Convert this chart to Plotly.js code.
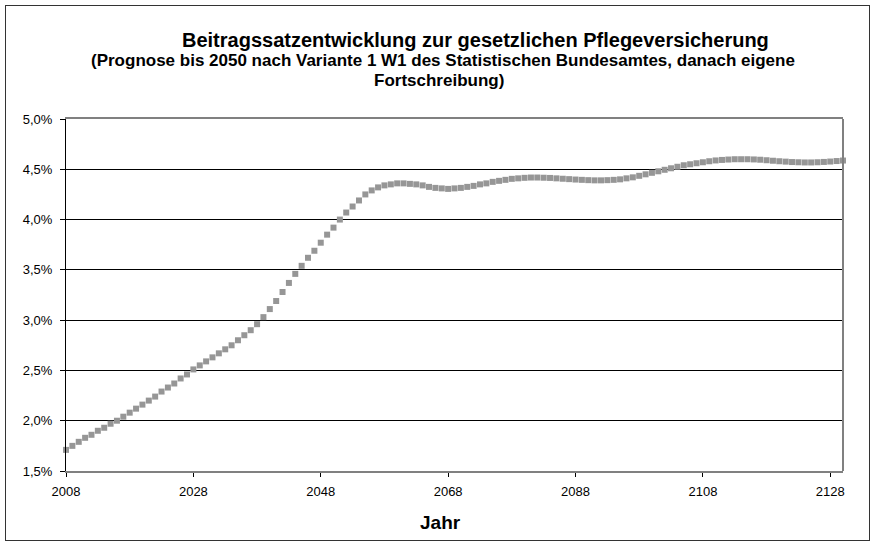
<!DOCTYPE html>
<html>
<head>
<meta charset="utf-8">
<script src="https://cdn.plot.ly/plotly-3.0.1.min.js"></script>
<style>
  html, body { margin: 0; padding: 0; background: #fff; }
  #wrap { position: relative; width: 876px; height: 544px; }
  #chart { position: absolute; left: 0; top: 0; width: 876px; height: 544px; }
  #frame { position: absolute; left: 5px; top: 5px; width: 863px; height: 534px;
           border: 1px solid #333; pointer-events: none; }
</style>
</head>
<body>
<div id="wrap">
  <div id="chart"></div>
  <div id="frame"></div>
</div>
<script>
  // Beitragssatz (%) je Jahr, 2008 .. 2130
  var startYear = 2008;
  var beitragssatz = [
    1.71, 1.75, 1.79, 1.83, 1.86, 1.90, 1.93, 1.97, 2.00, 2.04,   // 2008-2017
    2.08, 2.12, 2.16, 2.20, 2.24, 2.29, 2.33, 2.37, 2.42, 2.46,   // 2018-2027
    2.51, 2.55, 2.59, 2.63, 2.67, 2.71, 2.75, 2.80, 2.85, 2.90,   // 2028-2037
    2.96, 3.03, 3.11, 3.19, 3.28, 3.37, 3.46, 3.54, 3.62, 3.69,   // 2038-2047
    3.77, 3.85, 3.92, 4.00, 4.07, 4.13, 4.19, 4.25, 4.29, 4.32,   // 2048-2057
    4.34, 4.35, 4.36, 4.36, 4.355, 4.35, 4.34, 4.325, 4.315, 4.31, // 2058-2067
    4.305, 4.31, 4.315, 4.325, 4.335, 4.35, 4.36, 4.375, 4.385, 4.395, // 2068-2077
    4.405, 4.41, 4.415, 4.418, 4.418, 4.416, 4.414, 4.41, 4.406, 4.402, // 2078-2087
    4.398, 4.395, 4.392, 4.39, 4.39, 4.392, 4.395, 4.40, 4.41, 4.42,   // 2088-2097
    4.435, 4.45, 4.465, 4.48, 4.495, 4.51, 4.525, 4.54, 4.55, 4.56,    // 2098-2107
    4.57, 4.58, 4.588, 4.593, 4.597, 4.60, 4.60, 4.60, 4.598, 4.595,  // 2108-2117
    4.59, 4.585, 4.58, 4.576, 4.572, 4.57, 4.568, 4.568, 4.57, 4.573, // 2118-2127
    4.577, 4.582, 4.587                                                // 2128-2130
  ];
  var jahre = beitragssatz.map(function (v, i) { return startYear + i; });

  var xTicks = [2008, 2028, 2048, 2068, 2088, 2108, 2128];
  var yTicks = [1.5, 2.0, 2.5, 3.0, 3.5, 4.0, 4.5, 5.0];
  var yTickText = ["1,5%", "2,0%", "2,5%", "3,0%", "3,5%", "4,0%", "4,5%", "5,0%"];

  var FONT = "Arial, 'Liberation Sans', sans-serif";

  var trace = {
    x: jahre, y: beitragssatz, mode: "markers", type: "scatter",
    marker: { symbol: "square", size: 6, color: "#969696", line: { width: 0 } },
    cliponaxis: false, hoverinfo: "x+y"
  };

  var layout = {
    width: 876, height: 544, autosize: false,
    margin: { l: 66, r: 33, t: 119, b: 73, pad: 0 },
    paper_bgcolor: "#fff", plot_bgcolor: "#fff",
    font: { family: FONT, size: 13, color: "#000" },
    showlegend: false,
    xaxis: {
      range: [2008, 2130], tickvals: xTicks, ticktext: xTicks.map(String),
      ticks: "outside", ticklen: 4, tickcolor: "#000", tickwidth: 1,
      ticklabelstandoff: 3,
      showgrid: false, zeroline: false,
      showline: true, linecolor: "#808080", linewidth: 2, mirror: true,
      tickfont: { family: FONT, size: 13, color: "#000" }
    },
    yaxis: {
      range: [1.5, 5.0], tickvals: yTicks, ticktext: yTickText,
      ticks: "outside", ticklen: 5, tickcolor: "#000", tickwidth: 1,
      ticklabelstandoff: 5,
      showgrid: true, gridcolor: "#000", gridwidth: 1, zeroline: false,
      showline: true, linecolor: "#000", linewidth: 1,
      tickfont: { family: FONT, size: 13, color: "#000" }
    },
    shapes: [
      { type: "line", xref: "paper", yref: "paper", x0: 1, x1: 1, y0: 0, y1: 1,
        line: { color: "#808080", width: 2 } }
    ],
    annotations: [
      { xref: "paper", yref: "paper", x: 0.5264, y: 1.2244, xanchor: "center", yanchor: "middle",
        showarrow: false, text: "<b>Beitragssatzentwicklung zur gesetzlichen Pflegeversicherung</b>",
        font: { family: FONT, size: 20, color: "#000" } },
      { xref: "paper", yref: "paper", x: 0.4852, y: 1.1648, xanchor: "center", yanchor: "middle",
        showarrow: false,
        text: "<b>(Prognose bis 2050 nach Variante 1 W1 des Statistischen Bundesamtes, danach eigene</b>",
        font: { family: FONT, size: 17, color: "#000" } },
      { xref: "paper", yref: "paper", x: 0.4801, y: 1.108, xanchor: "center", yanchor: "middle",
        showarrow: false, text: "<b>Fortschreibung)</b>",
        font: { family: FONT, size: 17, color: "#000" } },
      { xref: "paper", yref: "paper", x: 0.4826, y: -0.1449, xanchor: "center", yanchor: "middle",
        showarrow: false, text: "<b>Jahr</b>",
        font: { family: FONT, size: 19, color: "#000" } }
    ]
  };

  Plotly.newPlot("chart", [trace], layout, { displayModeBar: false, staticPlot: true });
</script>
</body>
</html>
